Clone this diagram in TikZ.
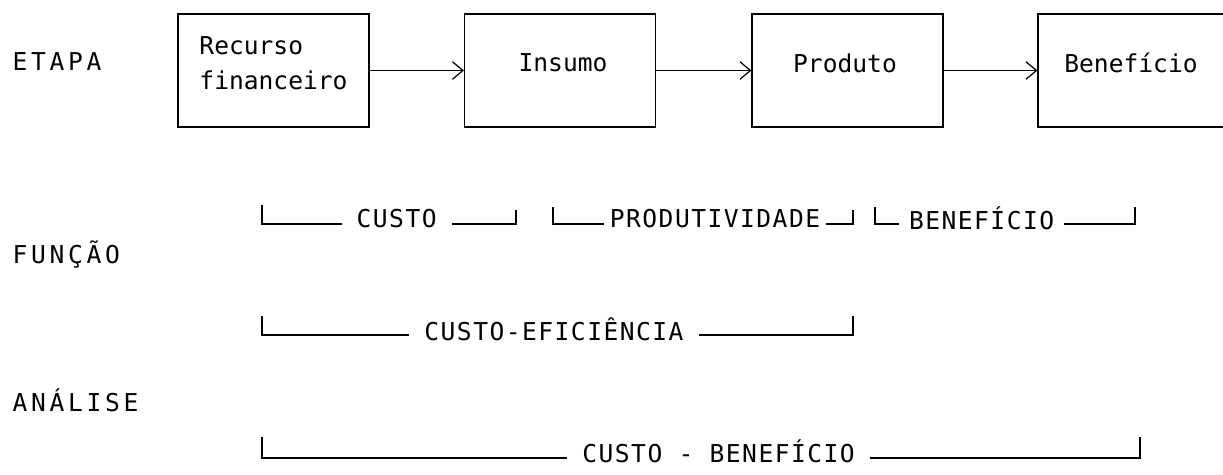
\documentclass[tikz,border=0pt]{standalone}
\usepackage{fontspec}
\setmonofont{DejaVu Sans Mono}
\usetikzlibrary{arrows.meta}
\tikzset{stagebox/.style={draw,line width=0.7pt,minimum width=3.82cm,minimum height=2.26cm,inner sep=0pt},
  stagetext/.style={font=\ttfamily\fontsize{14}{20}\selectfont,align=left,inner sep=0pt},
  rowname/.style={anchor=west,inner sep=0pt,font=\ttfamily\fontsize{14}{17}\selectfont\addfontfeature{LetterSpace=15}},
  tag/.style={fill=white,inner xsep=0.3cm,inner ysep=1pt,yshift=3pt,font=\ttfamily\fontsize{14}{17}\selectfont\addfontfeature{LetterSpace=6}}}

\begin{document}
\begin{tikzpicture}[x=0.02cm,y=-0.02cm,line width=0.7pt,>={Straight Barb[length=6pt,width=10pt]}]
    \useasboundingbox (0,0) rectangle (1223,474);

    % row names
    \node[rowname] (etapa) at (12,62) {ETAPA};
    \node[rowname] (funcao) at (12,255) {FUNÇÃO};
    \node[rowname] (analise) at (12,400) {ANÁLISE};

    % stages
    \node[stagebox] (rec) at (273.5,70.5) {};
    \node[stagebox] (ins) at (560,70.5) {};
    \node[stagebox] (pro) at (847.5,70.5) {};
    \node[stagebox] (ben) at (1133.5,70.5) {};
    \node[stagetext] (trec) at (273.5,63) {Recurso\\financeiro};
    \node[stagetext] (tins) at (563,63) {Insumo};
    \node[stagetext] (tpro) at (845,63) {Produto};
    \node[stagetext] (tben) at (1131,63) {Benefício};

    \draw [->] (rec) -- (ins);
    \draw [->] (ins) -- (pro);
    \draw [->] (pro) -- (ben);

    % function brackets
    \coordinate (cu1) at (262,224); \coordinate (cu1t) at (262,205);
    \coordinate (cu2) at (516,224); \coordinate (cu2t) at (516,210);
    \coordinate (pr1) at (553,224); \coordinate (pr1t) at (553,207);
    \coordinate (pr2) at (853,224); \coordinate (pr2t) at (853,210);
    \coordinate (be1) at (875,224); \coordinate (be1t) at (875,207);
    \coordinate (be2) at (1135,224); \coordinate (be2t) at (1135,207);
    \draw (cu1t) -- (cu1) -- node[tag,pos=0.53] (custo) {CUSTO} (cu2) -- (cu2t);
    \draw (pr1t) -- (pr1) -- node[tag,pos=0.54,inner xsep=0.12cm] (produt) {PRODUTIVIDADE} (pr2) -- (pr2t);
    \draw (be1t) -- (be1) -- node[tag,pos=0.41,inner xsep=0.2cm] (benef) {BENEFÍCIO} (be2) -- (be2t);

    % analysis brackets
    \coordinate (ce1) at (262,335); \coordinate (ce1t) at (262,316);
    \coordinate (ce2) at (853,335); \coordinate (ce2t) at (853,316);
    \coordinate (cb1) at (262,458); \coordinate (cb1t) at (262,437);
    \coordinate (cb2) at (1140,458); \coordinate (cb2t) at (1140,437);
    \draw (ce1t) -- (ce1) -- node[tag,pos=0.494] (ceff) {CUSTO-EFICIÊNCIA} (ce2) -- (ce2t);
    \draw (cb1t) -- (cb1) -- node[tag,pos=0.52,yshift=1pt] (cben) {CUSTO - BENEFÍCIO} (cb2) -- (cb2t);
\end{tikzpicture}
\end{document}
